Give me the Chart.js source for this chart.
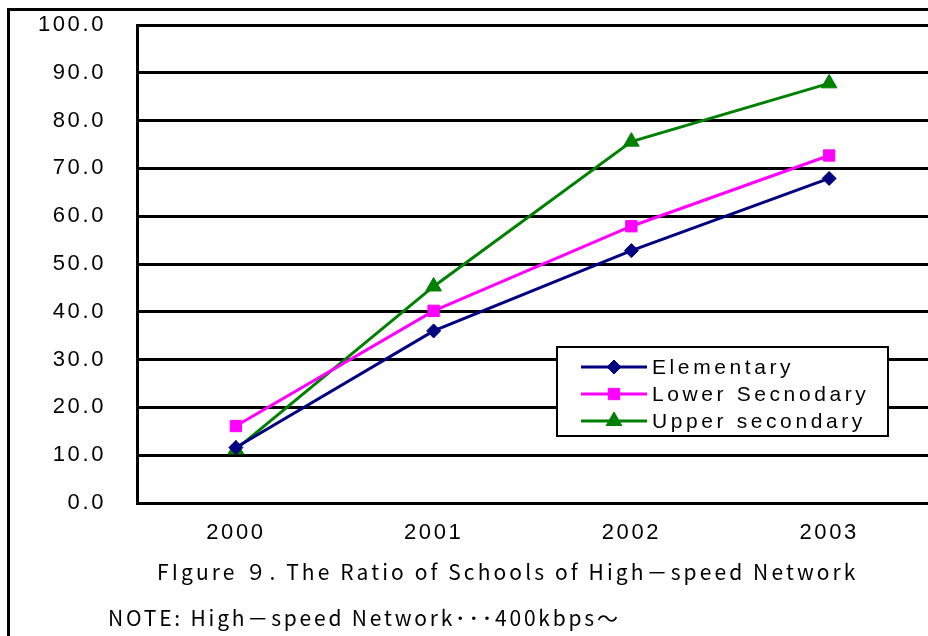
<!DOCTYPE html>
<html>
<head>
<meta charset="utf-8">
<script src="https://cdn.jsdelivr.net/npm/chart.js@4.4.1/dist/chart.umd.min.js"></script>
<style>
  html, body { margin: 0; padding: 0; background: #fff; overflow: hidden; }
  #wrap { width: 928px; height: 636px; position: relative; }
</style>
</head>
<body>
<div id="wrap"><canvas id="c" width="928" height="636"></canvas></div>
<script>
// Survey years and share of schools (%) with a high-speed connection
const years = ['2000', '2001', '2002', '2003'];
const elementary = [11.6, 36.0, 52.8, 67.9];
const lowerSecondary = [16.1, 40.2, 57.9, 72.7];
const upperSecondary = [11.2, 45.3, 75.6, 87.8];
const seriesNames = ['Elementary', 'Lower Secnodary', 'Upper secondary'];

const captionText = 'FIgure ９. The Ratio of Schools of High－speed Network';
const noteText = 'NOTE: High－speed Network･･･400kbps～';

const NAVY = '#000080', MAGENTA = '#FF00FF', GREEN = '#008000';
const TICK_FONT = '"Liberation Sans", Arial, sans-serif';

// White page and the outer frame of the figure
const framePlugin = {
  id: 'frame',
  beforeDraw(chart) {
    const ctx = chart.ctx;
    ctx.save();
    ctx.fillStyle = '#fff';
    ctx.fillRect(0, 0, chart.width, chart.height);
    ctx.strokeStyle = '#000';
    ctx.lineWidth = 3;
    ctx.strokeRect(8.5, 9.5, chart.width + 20, chart.height + 20);
    ctx.restore();
    ctx.letterSpacing = '2.6px';
  }
};

// Boxed legend sitting inside the plot area
const boxLegend = {
  id: 'boxLegend',
  afterDatasetsDraw(chart) {
    const ctx = chart.ctx;
    const x0 = 557, y0 = 347, w = 331, h = 89;
    ctx.save();
    ctx.fillStyle = '#fff';
    ctx.fillRect(x0, y0, w, h);
    ctx.strokeStyle = '#000';
    ctx.lineWidth = 2;
    ctx.strokeRect(x0, y0, w, h);
    const rows = [367, 394, 421];
    chart.data.datasets.forEach((ds, i) => {
      const y = rows[i];
      ctx.strokeStyle = ds.borderColor;
      ctx.lineWidth = 3;
      ctx.beginPath();
      ctx.moveTo(581, y);
      ctx.lineTo(647, y);
      ctx.stroke();
      ctx.fillStyle = ds.backgroundColor;
      ctx.lineWidth = 1;
      Chart.helpers.drawPoint(ctx, {
        pointStyle: ds.pointStyle, radius: ds.pointRadius, borderWidth: 1
      }, 614, y);
      ctx.fillStyle = '#000';
      ctx.font = '21px ' + TICK_FONT;
      ctx.letterSpacing = '3.6px';
      ctx.textBaseline = 'middle';
      ctx.textAlign = 'left';
      ctx.fillText(ds.label, 652, y + 1);
    });
    ctx.restore();
  }
};

// Figure caption and note below the axis
const captions = {
  id: 'captions',
  afterDraw(chart) {
    const ctx = chart.ctx;
    ctx.save();
    ctx.fillStyle = '#000';
    ctx.textBaseline = 'middle';
    ctx.textAlign = 'left';
    ctx.font = '21px "Noto Sans CJK JP", sans-serif';
    ctx.letterSpacing = '3.1px';
    ctx.fillText(captionText, 157, 572);
    ctx.letterSpacing = '2.8px';
    ctx.fillText(noteText, 108, 618);
    ctx.restore();
  }
};

new Chart(document.getElementById('c'), {
  type: 'line',
  data: {
    labels: years,
    datasets: [
      { label: seriesNames[0], data: elementary, borderColor: NAVY, backgroundColor: NAVY,
        pointStyle: 'rectRot', pointRadius: 7, borderWidth: 3, pointBorderWidth: 1 },
      { label: seriesNames[1], data: lowerSecondary, borderColor: MAGENTA, backgroundColor: MAGENTA,
        pointStyle: 'rect', pointRadius: 8, borderWidth: 3, pointBorderWidth: 1 },
      { label: seriesNames[2], data: upperSecondary, borderColor: GREEN, backgroundColor: GREEN,
        pointStyle: 'triangle', pointRadius: 9, borderWidth: 3, pointBorderWidth: 1 }
    ]
  },
  options: {
    responsive: false,
    animation: false,
    devicePixelRatio: 1,
    layout: { autoPadding: false, padding: { top: 25, left: 0, right: 0, bottom: 0 } },
    plugins: { legend: { display: false }, tooltip: { enabled: false } },
    elements: { line: { tension: 0 } },
    scales: {
      x: {
        offset: true,
        grid: { display: false, drawTicks: false },
        border: { display: true, color: '#000', width: 3 },
        ticks: { color: '#000', padding: 17, font: { family: TICK_FONT, size: 22 } },
        afterFit(s) { s.height = 133; s.paddingLeft = 0; s.paddingRight = 0; }
      },
      y: {
        min: 0, max: 100,
        grid: { color: '#000', lineWidth: 3, drawTicks: false },
        border: { display: true, color: '#000', width: 3 },
        ticks: {
          stepSize: 10, color: '#000', padding: 31,
          font: { family: TICK_FONT, size: 22 },
          callback: v => v.toFixed(1)
        },
        afterFit(s) { s.width = 137; s.paddingTop = 0; s.paddingBottom = 0; }
      }
    }
  },
  plugins: [framePlugin, boxLegend, captions]
});
</script>
</body>
</html>
